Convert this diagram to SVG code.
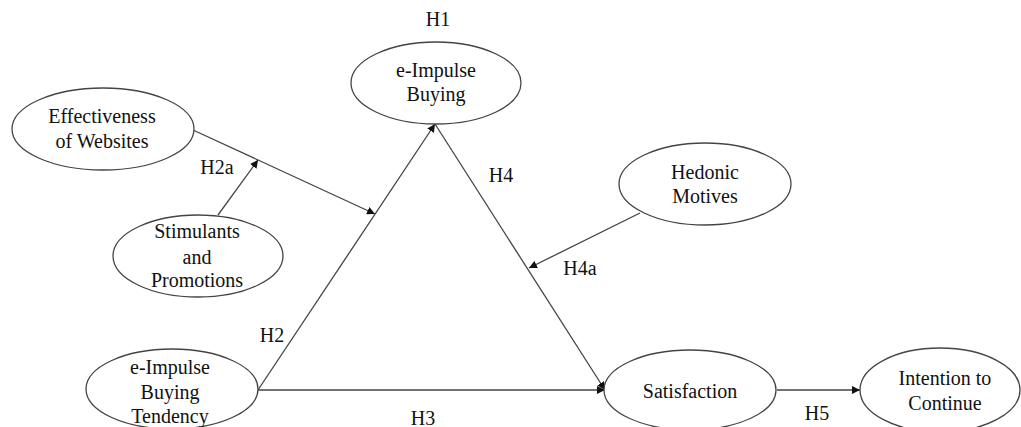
<svg xmlns="http://www.w3.org/2000/svg" width="1021" height="427" viewBox="0 0 1021 427">
<style>
.n ellipse{fill:#fff;stroke:#444;stroke-width:1.3}
text{font-family:"Liberation Serif","Times New Roman",serif;font-size:20px;fill:#111;text-anchor:middle}
.c line{stroke:#444;stroke-width:1.3;fill:none}
</style>
<defs>
<marker id="ah" viewBox="0 0 10 10" refX="10" refY="5" markerWidth="8" markerHeight="8" markerUnits="userSpaceOnUse" orient="auto">
<path d="M0,0 L10,5 L0,10 z" fill="#111"/>
</marker>
</defs>
<rect width="1021" height="427" fill="#fff"/>
<g class="c" id="connectors">
<line x1="258" y1="390" x2="435" y2="124" marker-end="url(#ah)"/>
<line x1="435" y1="124" x2="605" y2="390" marker-end="url(#ah)"/>
<line x1="258" y1="390" x2="605" y2="390" marker-end="url(#ah)"/>
<line x1="193" y1="130" x2="375" y2="214" marker-end="url(#ah)"/>
<line x1="218" y1="215" x2="258" y2="160" marker-end="url(#ah)"/>
<line x1="640" y1="213" x2="529" y2="268" marker-end="url(#ah)"/>
<line x1="777" y1="390" x2="860" y2="390" marker-end="url(#ah)"/>
</g>
<g class="n" id="eib">
<ellipse cx="436" cy="83" rx="85" ry="41"/>
<text x="436" y="77">e-Impulse</text>
<text x="436" y="101">Buying</text>
</g>
<g class="n" id="eow">
<ellipse cx="103" cy="129" rx="91" ry="41"/>
<text x="102" y="123">Effectiveness</text>
<text x="102" y="148">of Websites</text>
</g>
<g class="n" id="sap">
<ellipse cx="198" cy="256" rx="85" ry="41"/>
<text x="197" y="238">Stimulants</text>
<text x="197" y="264">and</text>
<text x="197" y="287">Promotions</text>
</g>
<g class="n" id="hm">
<ellipse cx="705" cy="184" rx="86" ry="41"/>
<text x="705" y="179">Hedonic</text>
<text x="705" y="203">Motives</text>
</g>
<g class="n" id="eibt">
<ellipse cx="172" cy="389" rx="86" ry="40"/>
<text x="170" y="374">e-Impulse</text>
<text x="170" y="399">Buying</text>
<text x="170" y="423">Tendency</text>
</g>
<g class="n" id="sat">
<ellipse cx="690" cy="390" rx="86" ry="40"/>
<text x="690" y="398">Satisfaction</text>
</g>
<g class="n" id="itc">
<ellipse cx="940" cy="390" rx="80" ry="42"/>
<text x="945" y="385">Intention to</text>
<text x="945" y="410">Continue</text>
</g>
<g id="labels">
<text x="438" y="26">H1</text>
<text x="217" y="174">H2a</text>
<text x="272" y="342">H2</text>
<text x="501" y="182">H4</text>
<text x="580" y="275">H4a</text>
<text x="423" y="425">H3</text>
<text x="817" y="420">H5</text>
</g>
</svg>
